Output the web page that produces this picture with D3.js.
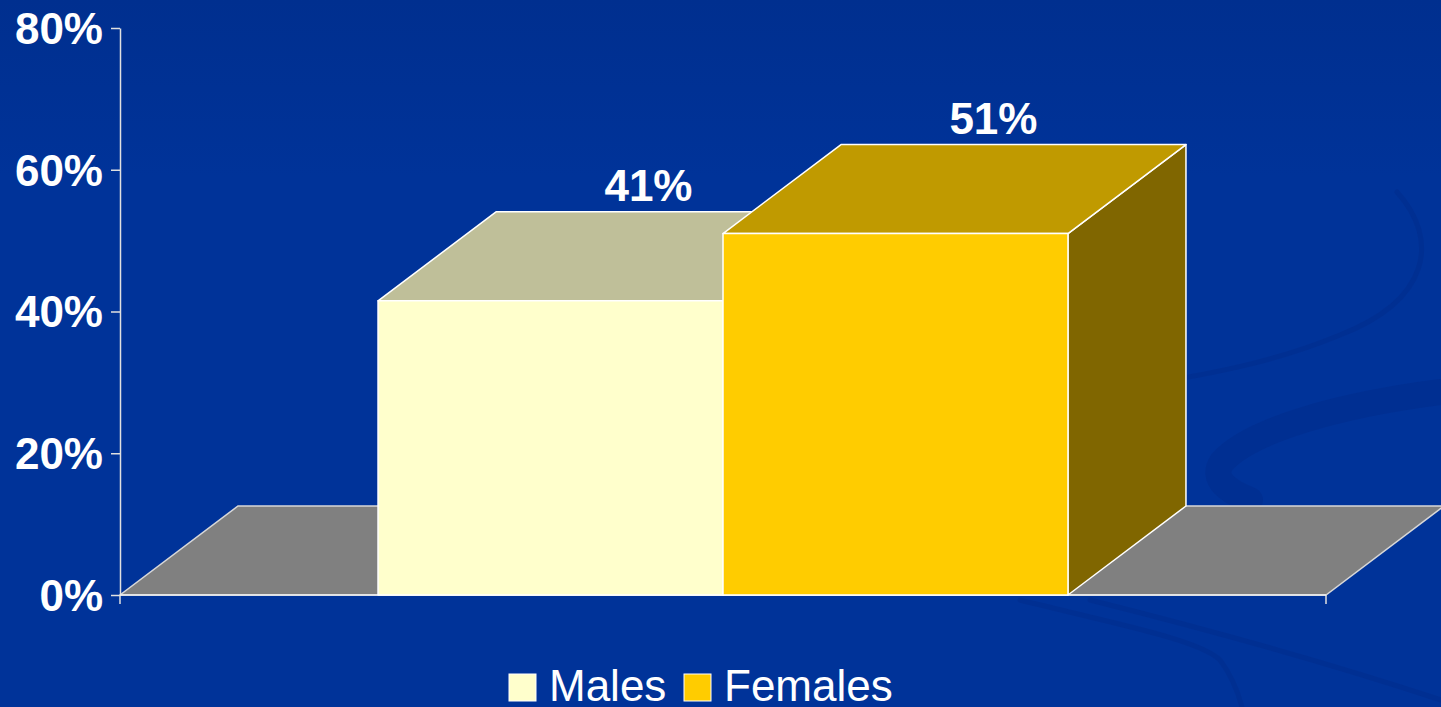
<!DOCTYPE html>
<html>
<head>
<meta charset="utf-8">
<script src="https://cdn.jsdelivr.net/npm/d3@7"></script>
<style>
  html, body { margin: 0; padding: 0; background: #003399; overflow: hidden; }
  text { font-family: "Liberation Sans", Arial, sans-serif; fill: #fff; }
</style>
</head>
<body>
<svg id="chart"></svg>
<script>
let width = 1441
let height = 707

// data
let series = ['Males', 'Females']
let values = [0.415, 0.51]
let valueLabels = ['41%', '51%']
let yTicks = [0, 0.2, 0.4, 0.6, 0.8]

let frontColors = ['#ffffcc', '#ffcc00']
let topColors = ['#bfbf99', '#c09a00']
let sideColors = ['#80806a', '#806600']

let plotLeft = 120
let plotRight = 1326
let depth = { x: 118, y: -89 }

let svg = d3.select('#chart')
  .attr('width', width)
  .attr('height', height)

let defs = svg.append('defs')
let grad = defs.append('linearGradient')
  .attr('id', 'bg')
  .attr('x1', 0).attr('y1', 0).attr('x2', 0).attr('y2', 1)
grad.append('stop').attr('offset', '0%').attr('stop-color', '#002f8f')
grad.append('stop').attr('offset', '25%').attr('stop-color', '#003399')
grad.append('stop').attr('offset', '100%').attr('stop-color', '#003399')

svg.append('rect')
  .attr('width', width)
  .attr('height', height)
  .attr('fill', 'url(#bg)')

// faint background swirls
let swirls = [
  'M1397,192 C1440,240 1430,300 1340,335 C1280,360 1220,372 1160,382',
  'M1441,392 C1340,405 1250,430 1222,462 C1210,480 1230,492 1250,500',
  'M1020,600 C1120,625 1200,640 1220,660 C1235,680 1240,700 1242,707',
  'M1090,600 C1250,640 1380,680 1441,700'
]
svg.selectAll('.swirl')
  .data(swirls)
  .enter()
  .append('path')
  .attr('class', 'swirl')
  .attr('d', d => d)
  .attr('fill', 'none')
  .attr('stroke', '#002a88')
  .attr('stroke-width', (d, i) => (i === 1 ? 26 : 5))
  .attr('stroke-linecap', 'round')
  .attr('opacity', 0.4)

let yScale = d3.scaleLinear().domain([0, 0.8]).range([595, 28])

let xScale = d3.scaleBand()
  .domain(series)
  .range([plotLeft, plotRight])
  .paddingInner(0)
  .paddingOuter(0.748)

let y0 = yScale(0)

// floor
let floorPts = [
  [plotLeft, y0],
  [plotRight, y0],
  [plotRight + depth.x, y0 + depth.y],
  [plotLeft + depth.x, y0 + depth.y]
]
svg.append('polygon')
  .attr('points', floorPts.map(p => p.join(',')).join(' '))
  .attr('fill', '#808080')
  .attr('stroke', '#d8d8d8')
  .attr('stroke-width', 1.5)

// axis
let yAxis = d3.axisLeft(yScale)
  .tickValues(yTicks)
  .tickFormat(d3.format('.0%'))
  .tickSize(9)
  .tickSizeOuter(0)
  .tickPadding(8)

let axisG = svg.append('g')
  .attr('transform', `translate(${plotLeft},0)`)
  .call(yAxis)

axisG.select('.domain').attr('stroke', '#e0e0e0').attr('stroke-width', 1.5)
axisG.selectAll('.tick line').attr('stroke', '#e0e0e0').attr('stroke-width', 1.5)
axisG.selectAll('.tick text')
  .attr('fill', '#fff')
  .attr('font-size', 44)
  .attr('font-weight', 'bold')
  .attr('font-family', '"Liberation Sans", Arial, sans-serif')
  .attr('dy', '0.35em')

// small ticks below the floor front edge
svg.selectAll('.floortick')
  .data([plotLeft, plotRight])
  .enter()
  .append('line')
  .attr('x1', d => d).attr('x2', d => d)
  .attr('y1', y0).attr('y2', y0 + 9)
  .attr('stroke', '#e0e0e0')
  .attr('stroke-width', 1.5)

svg.append('line')
  .attr('x1', plotLeft).attr('x2', plotRight)
  .attr('y1', y0).attr('y2', y0)
  .attr('stroke', '#f0f0f0')
  .attr('stroke-width', 1.5)

// bars
svg.selectAll('.bar')
  .data(series)
  .enter()
  .append('g')
  .attr('class', 'bar')
  .each(function(s, i) {
    let g = d3.select(this)
    let x = xScale(s)
    let w = xScale.bandwidth()
    let yt = yScale(values[i])

    let front = [[x, yt], [x + w, yt], [x + w, y0], [x, y0]]
    let top = [[x, yt], [x + depth.x, yt + depth.y], [x + w + depth.x, yt + depth.y], [x + w, yt]]
    let side = [[x + w, yt], [x + w + depth.x, yt + depth.y], [x + w + depth.x, y0 + depth.y], [x + w, y0]]

    let faces = [[side, sideColors[i]], [top, topColors[i]], [front, frontColors[i]]]
    faces.forEach(f => {
      g.append('polygon')
        .attr('points', f[0].map(p => p.join(',')).join(' '))
        .attr('fill', f[1])
        .attr('stroke', '#ffffff')
        .attr('stroke-width', 1.5)
        .attr('stroke-linejoin', 'round')
    })
  })

// value labels
svg.selectAll('.vlabel')
  .data(series)
  .enter()
  .append('text')
  .attr('class', 'vlabel')
  .attr('x', d => xScale(d) + xScale.bandwidth() / 2 + depth.x * 0.83)
  .attr('y', (d, i) => yScale(values[i]) + depth.y - 11)
  .attr('text-anchor', 'middle')
  .attr('font-size', 44)
  .attr('font-weight', 'bold')
  .text((d, i) => valueLabels[i])

// legend
let legendX = [509, 684]
let legend = svg.selectAll('.legend')
  .data(series)
  .enter()
  .append('g')
  .attr('class', 'legend')
  .attr('transform', (d, i) => `translate(${legendX[i]},674)`)

legend.append('rect')
  .attr('width', 27)
  .attr('height', 27)
  .attr('fill', (d, i) => frontColors[i])
  .attr('stroke', '#ffffff')
  .attr('stroke-width', 1)

legend.append('text')
  .attr('x', 40)
  .attr('y', 27)
  .attr('font-size', 44)
  .text(d => d)
</script>
</body>
</html>
